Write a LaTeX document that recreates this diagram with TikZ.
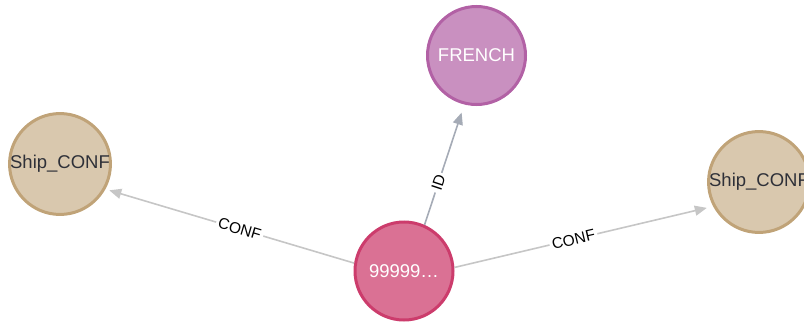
\documentclass[tikz,border=0pt]{standalone}
\usepackage{fontspec}
\setmainfont{Liberation Sans}
\usetikzlibrary{arrows.meta}
\definecolor{pinkfill}{HTML}{DA7194}
\definecolor{pinkstroke}{HTML}{CC3C6C}
\definecolor{purfill}{HTML}{C990C0}
\definecolor{purstroke}{HTML}{B261A5}
\definecolor{tanfill}{HTML}{D9C8AE}
\definecolor{tanstroke}{HTML}{C0A378}
\definecolor{idline}{HTML}{A5ABB6}
\definecolor{confline}{HTML}{C6C6C6}
\definecolor{darktxt}{HTML}{2E3038}
\tikzset{
  gnode/.style={circle, line width=3pt, minimum size=98pt, inner sep=0pt, font=\fontsize{18.5}{20}\selectfont},
  pinknode/.style={gnode, fill=pinkfill, draw=pinkstroke, text=white},
  purnode/.style={gnode, fill=purfill, draw=purstroke, text=white},
  tannode/.style={gnode, fill=tanfill, draw=tanstroke, text=darktxt},
  rel/.style={line width=1.6pt, -{Triangle[length=12pt,width=10pt]}},
  rlabel/.style={fill=white, inner sep=2.5pt, sloped, font=\fontsize{15.5}{17}\selectfont, text=black}
}
\begin{document}
\begin{tikzpicture}[x=1pt,y=-1pt]
\useasboundingbox (0,0) rectangle (804,324);
\clip (0,0) rectangle (804,324);
\node[pinknode] (c) at (404,271) {99999\ldots};
\node[purnode] (fr) at (476.5,55.5) {FRENCH};
\node[tannode] (sl) at (60,164) {Ship\_CONF};
\node[tannode] (sr) at (759,182) {Ship\_CONF};
\draw[rel, draw=confline, fill=confline, shorten >=4pt] (c.171) -- node[rlabel, pos=0.46] {CONF} (sl.-29);
\draw[rel, draw=confline, fill=confline, shorten >=6.5pt] (c.4) -- node[rlabel, pos=0.46] {CONF} (sr.208);
\draw[rel, draw=idline, fill=idline, shorten >=8.5pt] (c.66) -- node[rlabel, pos=0.35] {ID} (fr.-104);
\end{tikzpicture}
\end{document}
